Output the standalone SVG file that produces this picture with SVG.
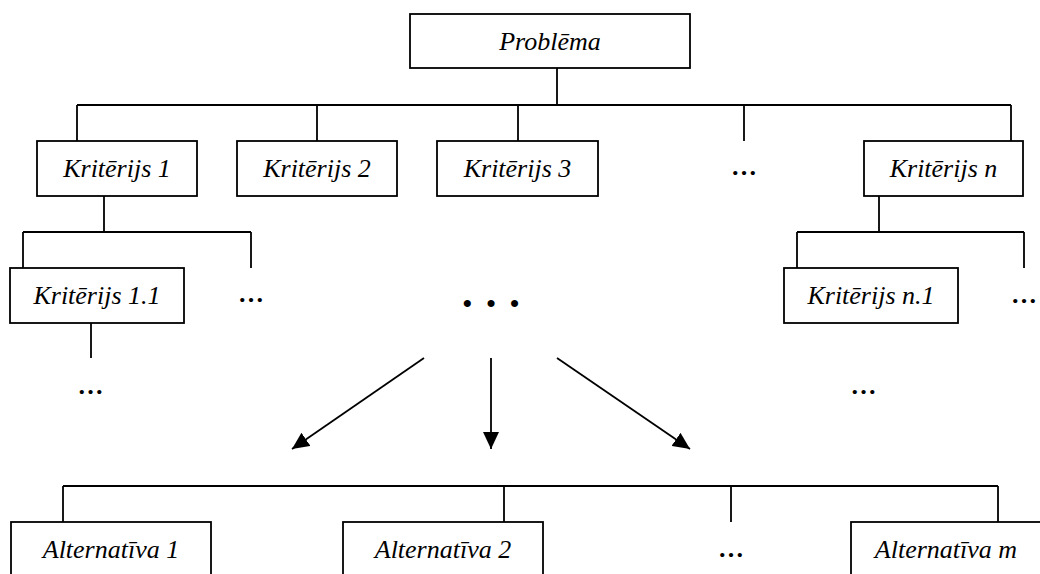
<svg xmlns="http://www.w3.org/2000/svg" width="1040" height="574" viewBox="0 0 1040 574">
  <defs>
    <marker id="arrow" markerUnits="userSpaceOnUse" markerWidth="18" markerHeight="16" viewBox="0 0 18 16" refX="17" refY="8" orient="auto">
      <path d="M0,0 L17,8 L0,16 Z" fill="#000"/>
    </marker>
  </defs>
  <style>
    .box { fill: #fff; stroke: #000; stroke-width: 1.8; }
    .lbl { font-family: 'Liberation Serif', 'DejaVu Serif', serif; font-style: italic; font-size: 26px; fill: #000; text-anchor: middle; }
    .dots { font-family: 'Liberation Serif', 'DejaVu Serif', serif; font-weight: bold; font-size: 26px; fill: #000; text-anchor: middle; }
    .wire { fill: none; stroke: #000; stroke-width: 1.8; }
  </style>
  <rect width="1040" height="574" fill="#fff"/>

  <!-- connectors -->
  <g id="connectors">
    <!-- goal to criteria -->
    <path class="wire" d="M557,68 V105 M77,105 H1011 M77,105 V141 M317,105 V141 M518,105 V141 M744,105 V141 M1011,105 V141"/>
    <!-- criterion 1 to sub-criteria -->
    <path class="wire" d="M104,196 V232 M23,232 H251 M23,232 V268 M251,232 V268 M91,323 V358"/>
    <!-- criterion n to sub-criteria -->
    <path class="wire" d="M879,196 V232 M797,232 H1024 M797,232 V268 M1024,232 V268"/>
    <!-- arrows to alternatives -->
    <line class="wire" x1="424" y1="358" x2="292" y2="449" marker-end="url(#arrow)"/>
    <line class="wire" x1="491" y1="358" x2="491" y2="449" marker-end="url(#arrow)"/>
    <line class="wire" x1="557" y1="358" x2="690" y2="449" marker-end="url(#arrow)"/>
    <!-- alternatives bus -->
    <path class="wire" d="M63,486 H998 M63,486 V522 M504,486 V522 M731,486 V522 M998,486 V522"/>
  </g>

  <g id="problema">
    <rect class="box" x="410" y="14" width="280" height="54"/>
    <text class="lbl" x="550" y="50">Problēma</text>
  </g>

  <g id="kriterijs-1">
    <rect class="box" x="37" y="141" width="160" height="55"/>
    <text class="lbl" x="117" y="177">Kritērijs 1</text>
  </g>
  <g id="kriterijs-2">
    <rect class="box" x="237" y="141" width="160" height="55"/>
    <text class="lbl" x="317" y="177">Kritērijs 2</text>
  </g>
  <g id="kriterijs-3">
    <rect class="box" x="437" y="141" width="161" height="55"/>
    <text class="lbl" x="517.5" y="177">Kritērijs 3</text>
  </g>
  <g id="kriterijs-more">
    <text class="dots" x="744" y="175">…</text>
  </g>
  <g id="kriterijs-n">
    <rect class="box" x="864" y="141" width="159" height="55"/>
    <text class="lbl" x="943.5" y="177">Kritērijs n</text>
  </g>

  <g id="kriterijs-1-1">
    <rect class="box" x="10" y="268" width="174" height="55"/>
    <text class="lbl" x="97" y="304">Kritērijs 1.1</text>
  </g>
  <g id="kriterijs-1-more">
    <text class="dots" x="251" y="302">…</text>
  </g>
  <g id="kriterijs-1-1-more">
    <text class="dots" x="90.5" y="394">…</text>
  </g>

  <g id="kriterijs-n-1">
    <rect class="box" x="784" y="268" width="174" height="55"/>
    <text class="lbl" x="871" y="304">Kritērijs n.1</text>
  </g>
  <g id="kriterijs-n-more">
    <text class="dots" x="1024" y="303">…</text>
  </g>
  <g id="kriterijs-n-1-more">
    <text class="dots" x="863.5" y="394">…</text>
  </g>

  <g id="middle-dots">
    <text class="dots" x="491" y="312" style="word-spacing:8px">• • •</text>
  </g>

  <g id="alternativa-1">
    <rect class="box" x="11" y="522" width="200" height="70"/>
    <text class="lbl" x="111" y="558">Alternatīva 1</text>
  </g>
  <g id="alternativa-2">
    <rect class="box" x="343" y="522" width="200" height="70"/>
    <text class="lbl" x="443" y="558">Alternatīva 2</text>
  </g>
  <g id="alternativa-more">
    <text class="dots" x="731" y="557">…</text>
  </g>
  <g id="alternativa-m">
    <rect class="box" x="851" y="522" width="200" height="70"/>
    <text class="lbl" x="946" y="558">Alternatīva m</text>
  </g>
</svg>
